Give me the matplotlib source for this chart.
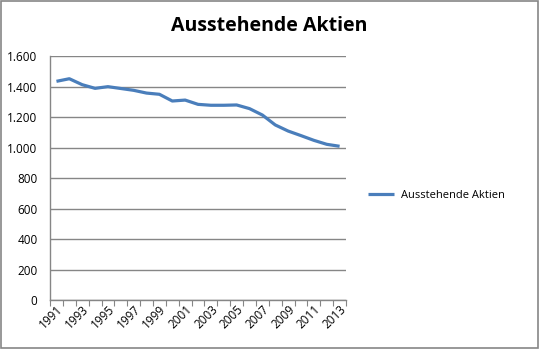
import numpy as np
import matplotlib
matplotlib.use('Agg')
import matplotlib.pyplot as plt
from matplotlib.patches import Rectangle

# Daten
jahre = list(range(1991, 2014))
aktien = [1434, 1451, 1412, 1388, 1399, 1387, 1375, 1357, 1349, 1305, 1311, 1283,
          1277, 1277, 1279, 1255, 1213, 1148, 1108, 1078, 1047, 1021, 1008]
y_ticks = [0, 200, 400, 600, 800, 1000, 1200, 1400, 1600]
y_labels = ['0', '200', '400', '600', '800', '1.000', '1.200', '1.400', '1.600']
x_labels = [str(j) for j in jahre[::2]]

plt.rcParams['font.family'] = ['Open Sans', 'DejaVu Sans']

fig = plt.figure(figsize=(5.39, 3.49), dpi=100)
fig.patches.append(Rectangle((0.001, 0.002), 0.997, 0.995, transform=fig.transFigure,
                             fill=False, edgecolor='#868686', linewidth=1.2))

ax = fig.add_axes([0.0928, 0.1404, 0.5492, 0.6991])
x = np.arange(len(jahre))
ax.plot(x, aktien, color='#4A7EBB', linewidth=2.3, label='Ausstehende Aktien',
        solid_capstyle='butt')

ax.set_xlim(-0.5, len(jahre) - 0.5)
ax.set_ylim(0, 1600)
ax.set_yticks(y_ticks)
ax.set_yticklabels(y_labels, fontsize=8.5)
ax.yaxis.grid(True, color='#868686', linewidth=1.0)
ax.set_axisbelow(True)
ax.tick_params(axis='y', length=0, pad=9)

# Ticks zwischen den Kategorien, Beschriftung an jeder zweiten
ax.set_xticks(np.arange(-0.5, len(jahre), 1.0))
ax.set_xticklabels([])
ax.tick_params(axis='x', which='major', direction='out', length=4, color='#868686')
ax.set_xticks(x[::2], minor=True)
ax.set_xticklabels(x_labels, minor=True, rotation=45, ha='right', rotation_mode='anchor',
                   fontsize=8.5)
ax.tick_params(axis='x', which='minor', length=0, pad=2)

for s in ['top', 'right']:
    ax.spines[s].set_visible(False)
for s in ['left', 'bottom']:
    ax.spines[s].set_color('#868686')
    ax.spines[s].set_linewidth(1.0)

fig.text(0.5, 0.925, 'Ausstehende Aktien', ha='center', va='center', fontsize=14,
         fontweight='bold')

fig.legend(loc='center left', bbox_to_anchor=(0.665, 0.44), frameon=False, fontsize=8,
           handlelength=2.3, handletextpad=0.6)

plt.savefig('out.png', dpi=100)
